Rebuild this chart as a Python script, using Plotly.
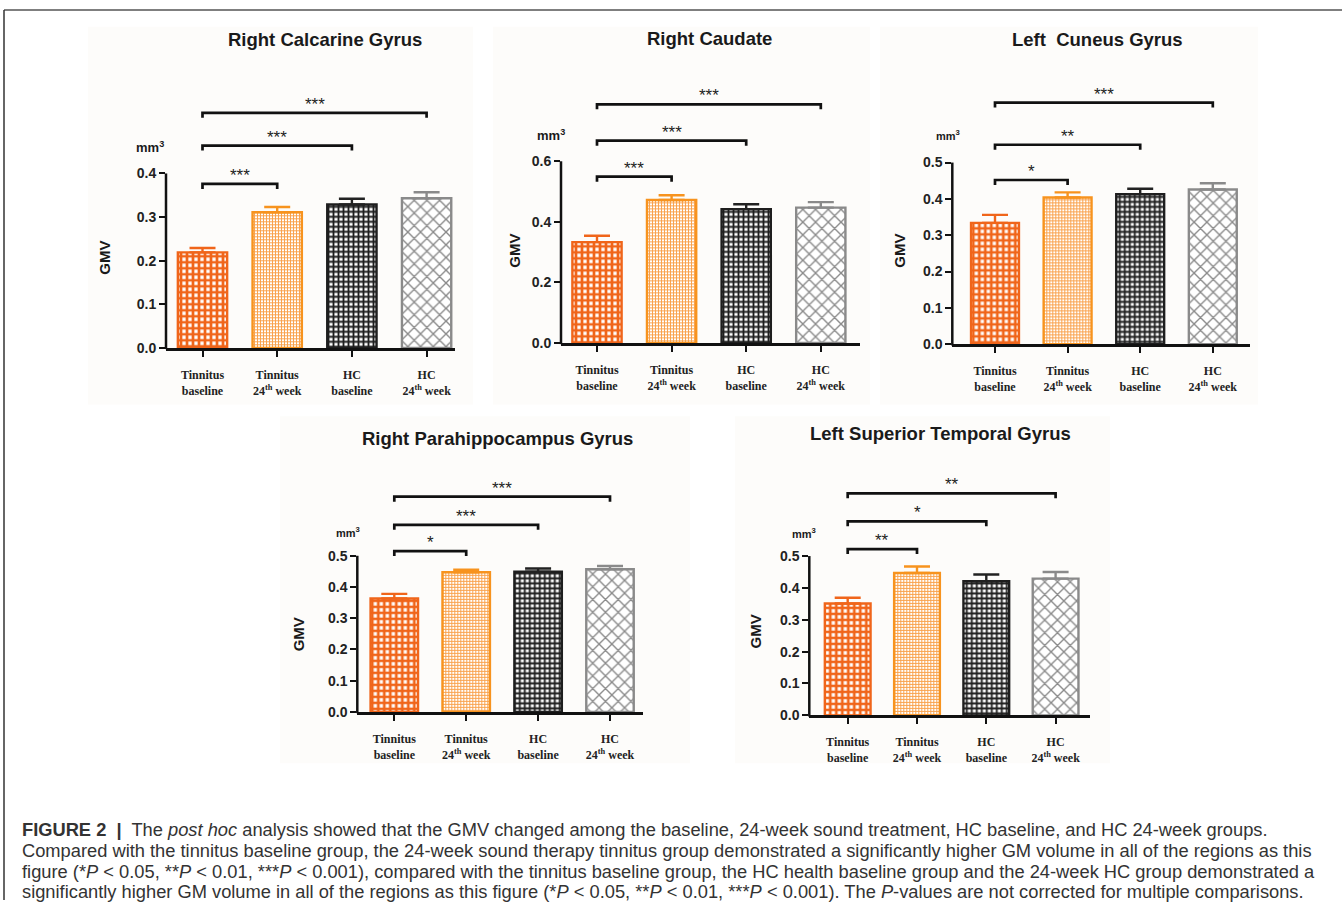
import plotly.graph_objects as go

W, H = 1342, 908

# ---------------- data ----------------
categories = ["Tinnitus baseline", "Tinnitus 24th week", "HC baseline", "HC 24th week"]
tick_labels = [
    "<b>Tinnitus</b><br><b>baseline</b>",
    "<b>Tinnitus</b><br><b>24<sup>th</sup> week</b>",
    "<b>HC</b><br><b>baseline</b>",
    "<b>HC</b><br><b>24<sup>th</sup> week</b>",
]
regions = [
    "Right Calcarine Gyrus",
    "Right Caudate",
    "Left\u00a0 Cuneus Gyrus",
    "Right Parahippocampus Gyrus",
    "Left Superior Temporal Gyrus",
]

gmv_calcarine = [0.219, 0.311, 0.329, 0.343]
sem_calcarine = [0.010, 0.012, 0.013, 0.014]
gmv_caudate = [0.333, 0.472, 0.442, 0.447]
sem_caudate = [0.021, 0.016, 0.016, 0.018]
gmv_cuneus = [0.334, 0.404, 0.413, 0.426]
sem_cuneus = [0.022, 0.014, 0.015, 0.017]
gmv_parahipp = [0.363, 0.447, 0.449, 0.457]
sem_parahipp = [0.015, 0.008, 0.010, 0.010]
gmv_stg = [0.351, 0.447, 0.421, 0.429]
sem_stg = [0.018, 0.020, 0.021, 0.021]

# significance vs. tinnitus baseline (bar 1 vs bars 2,3,4)
sig_calcarine = ["***", "***", "***"]
sig_caudate = ["***", "***", "***"]
sig_cuneus = ["*", "**", "***"]
sig_parahipp = ["*", "***", "***"]
sig_stg = ["**", "*", "**"]

# bracket levels (data units)
brk_calcarine = [0.376, 0.464, 0.539]
brk_caudate = [0.549, 0.668, 0.788]
brk_cuneus = [0.452, 0.549, 0.665]
brk_parahipp = [0.515, 0.599, 0.689]
brk_stg = [0.522, 0.609, 0.697]

yticks_calcarine = [0.0, 0.1, 0.2, 0.3, 0.4]
yticks_caudate = [0.0, 0.2, 0.4, 0.6]
yticks_cuneus = [0.0, 0.1, 0.2, 0.3, 0.4, 0.5]
yticks_parahipp = [0.0, 0.1, 0.2, 0.3, 0.4, 0.5]
yticks_stg = [0.0, 0.1, 0.2, 0.3, 0.4, 0.5]

panels_data = [
    (regions[0], gmv_calcarine, sem_calcarine, sig_calcarine, brk_calcarine, yticks_calcarine),
    (regions[1], gmv_caudate, sem_caudate, sig_caudate, brk_caudate, yticks_caudate),
    (regions[2], gmv_cuneus, sem_cuneus, sig_cuneus, brk_cuneus, yticks_cuneus),
    (regions[3], gmv_parahipp, sem_parahipp, sig_parahipp, brk_parahipp, yticks_parahipp),
    (regions[4], gmv_stg, sem_stg, sig_stg, brk_stg, yticks_stg),
]

# ---------------- layout geometry (pixels) ----------------
geom = [
    dict(left=166, right=455, c0=202.5, step=74.7, y0=351, ytop=175, top=80,
         title=(324.5, 40), gmv=(105, 260), mm=(150, 148), mmsize=13,
         bg=(88, 473, 27, 408)),
    dict(left=561, right=860, c0=597, step=74.6, y0=346, ytop=162.7, top=70,
         title=(709, 39), gmv=(515, 253), mm=(551, 136.7), mmsize=13,
         bg=(493, 870, 27, 408)),
    dict(left=952.3, right=1250, c0=995, step=72.6, y0=347.3, ytop=164, top=70,
         title=(1097.5, 40), gmv=(900, 253), mm=(948, 136.7), mmsize=11,
         bg=(880, 1258, 27, 408)),
    dict(left=357.3, right=643, c0=394.3, step=71.9, y0=718.3, ytop=560.7, top=470,
         title=(497, 442), gmv=(298, 640), mm=(348, 536.7), mmsize=11,
         bg=(280, 690, 420, 770)),
    dict(left=809.3, right=1090, c0=847.7, step=69.3, y0=721.7, ytop=561, top=465,
         title=(940, 437), gmv=(755, 637), mm=(804, 537.3), mmsize=11,
         bg=(735, 1110, 420, 770)),
]

bar_styles = [
    dict(line="#f0651a", pattern=dict(shape="+", fgcolor="#f0651a", bgcolor="#ffffff", size=6, solidity=0.7), err="#f0651a"),
    dict(line="#f7931e", pattern=dict(shape="+", fgcolor="#f9a24c", bgcolor="#ffffff", size=3, solidity=0.55), err="#f7931e"),
    dict(line="#1e1e1e", pattern=dict(shape="+", fgcolor="#1e1e1e", bgcolor="#ffffff", size=5, solidity=0.6), err="#222222"),
    dict(line="#8a8a8a", pattern=dict(shape="x", fgcolor="#8a8a8a", bgcolor="#ffffff", size=9, solidity=0.28), err="#8a8a8a"),
]


def px(x):
    return x / W


def py(y):
    return 1 - y / H


fig = go.Figure()
layout = dict(
    width=W, height=H, autosize=False,
    margin=dict(l=0, r=0, t=0, b=0),
    paper_bgcolor="white", plot_bgcolor="rgba(0,0,0,0)",
    showlegend=False,
    shapes=[], annotations=[],
)

SANS = "Liberation Sans, Arial, sans-serif"
SERIF = "Liberation Serif, Times New Roman, serif"

for k, ((title, vals, sems, sigs, brks, yticks), g) in enumerate(zip(panels_data, geom)):
    n = k + 1
    xa = "x" if n == 1 else f"x{n}"
    ya = "y" if n == 1 else f"y{n}"
    xkey = "xaxis" if n == 1 else f"xaxis{n}"
    ykey = "yaxis" if n == 1 else f"yaxis{n}"

    ytop_val = max(yticks)
    pxu = (g["y0"] - g["ytop"]) / ytop_val
    yrange_top = (g["y0"] - g["top"]) / pxu

    # panel background
    b = g["bg"]
    layout["shapes"].append(dict(type="rect", xref="paper", yref="paper", layer="below",
                                 x0=px(b[0]), x1=px(b[1]), y0=py(b[3]), y1=py(b[2]),
                                 fillcolor="#fdfcfa", line=dict(width=0)))

    for i, (v, s) in enumerate(zip(vals, sems)):
        st = bar_styles[i]
        fig.add_trace(go.Bar(
            x=[i], y=[v], width=0.66, xaxis=xa, yaxis=ya,
            marker=dict(color="#ffffff", line=dict(color=st["line"], width=2.4),
                        pattern=dict(fillmode="replace", **st["pattern"])),
            error_y=dict(type="data", array=[s], arrayminus=[0], symmetric=False,
                         color=st["err"], thickness=2.4, width=13),
            name=categories[i], hoverinfo="skip",
        ))

    drop = 5 / pxu
    for j, (h, sg) in enumerate(zip(brks, sigs)):
        fig.add_trace(go.Scatter(
            x=[0, 0, j + 1, j + 1], y=[h - drop, h, h, h - drop], mode="lines",
            line=dict(color="#111111", width=2.7), xaxis=xa, yaxis=ya, hoverinfo="skip",
        ))
        layout["annotations"].append(dict(
            x=(j + 1) / 2, y=h, xref=xa, yref=ya, text=sg, showarrow=False,
            yanchor="bottom", yshift=-3, font=dict(family=SANS, size=17, color="#222")))

    xr = [(g["left"] - g["c0"]) / g["step"], (g["right"] - g["c0"]) / g["step"]]
    layout[xkey] = dict(
        domain=[px(g["left"]), px(g["right"])], range=xr, anchor=ya,
        showline=True, linecolor="#111111", linewidth=2.5,
        ticks="outside", ticklen=6, tickwidth=2, tickcolor="#111111",
        tickvals=[0, 1, 2, 3], ticktext=tick_labels, ticklabelstandoff=8,
        tickfont=dict(family=SERIF, size=12, color="#222222"),
        showgrid=False, zeroline=False, fixedrange=True,
    )
    layout[ykey] = dict(
        domain=[py(g["y0"]), py(g["top"])], range=[0, yrange_top], anchor=xa,
        showline=False, ticks="outside", ticklen=6, tickwidth=2, tickcolor="#111111",
        tickvals=yticks, tickformat=".1f",
        tickfont=dict(family=SANS, size=14, color="#222222", weight="bold"),
        showgrid=False, zeroline=False, fixedrange=True,
    )
    # y axis line up to the top tick
    layout["shapes"].append(dict(type="line", xref="paper", yref="paper",
                                 x0=px(g["left"]), x1=px(g["left"]),
                                 y0=py(g["y0"] + 1.2), y1=py(g["ytop"]),
                                 line=dict(color="#111111", width=2.5)))

    # title, axis label, unit
    layout["annotations"].append(dict(
        x=px(g["title"][0]), y=py(g["title"][1]), xref="paper", yref="paper",
        text=f"<b>{title}</b>", showarrow=False, xanchor="center", yanchor="middle",
        font=dict(family=SANS, size=18.5, color="#1a1a1a")))
    layout["annotations"].append(dict(
        x=px(g["gmv"][0]), y=py(g["gmv"][1]), xref="paper", yref="paper",
        text="<b>GMV</b>", textangle=-90, showarrow=False, xanchor="center", yanchor="middle",
        font=dict(family=SANS, size=15, color="#1a1a1a")))
    layout["annotations"].append(dict(
        x=px(g["mm"][0]), y=py(g["mm"][1]), xref="paper", yref="paper",
        text="<b>mm<sup>3</sup></b>", showarrow=False, xanchor="center", yanchor="middle",
        font=dict(family=SANS, size=g["mmsize"], color="#1a1a1a")))

# frame lines (top and left)
layout["shapes"].append(dict(type="line", xref="paper", yref="paper",
                             x0=px(4), x1=1, y0=py(10), y1=py(10),
                             line=dict(color="#555555", width=1.5)))
layout["shapes"].append(dict(type="line", xref="paper", yref="paper",
                             x0=px(4), x1=px(4), y0=py(10), y1=0,
                             line=dict(color="#333333", width=1.5)))

caption_lines = [
    "<b>FIGURE 2</b>  <b>|</b>  The <i>post hoc</i> analysis showed that the GMV changed among the baseline, 24-week sound treatment, HC baseline, and HC 24-week groups.",
    "Compared with the tinnitus baseline group, the 24-week sound therapy tinnitus group demonstrated a significantly higher GM volume in all of the regions as this",
    "figure (*<i>P</i> &lt; 0.05, **<i>P</i> &lt; 0.01, ***<i>P</i> &lt; 0.001), compared with the tinnitus baseline group, the HC health baseline group and the 24-week HC group demonstrated a",
    "significantly higher GM volume in all of the regions as this figure (*<i>P</i> &lt; 0.05, **<i>P</i> &lt; 0.01, ***<i>P</i> &lt; 0.001). The <i>P</i>-values are not corrected for multiple comparisons.",
]
caption_y = [837, 858, 879, 899.5]
for line, yy in zip(caption_lines, caption_y):
    layout["annotations"].append(dict(
        x=px(20), y=py(yy), xref="paper", yref="paper", text=line, showarrow=False,
        xanchor="left", yanchor="middle", align="left",
        font=dict(family=SANS, size=18.3, color="#333333")))

fig.update_layout(**layout)
fig.write_html("out.html", config=dict(displayModeBar=False),
               post_script="document.body.style.margin='0';document.body.style.overflow='hidden';")
